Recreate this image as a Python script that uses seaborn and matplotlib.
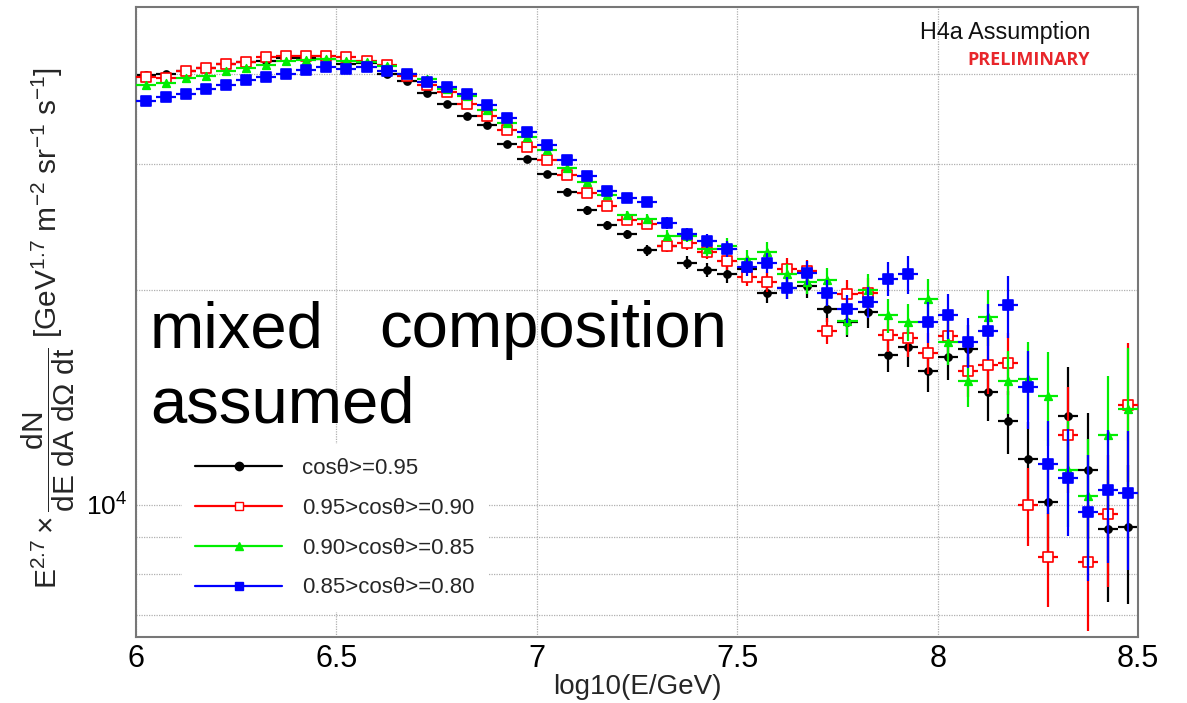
import numpy as np
import pandas as pd
import matplotlib
matplotlib.use("Agg")
import matplotlib.pyplot as plt
from matplotlib.lines import Line2D
from matplotlib.ticker import FixedLocator, FuncFormatter, MultipleLocator, NullLocator
import seaborn as sns

# ----------------------------- data ----------------------------- #
# bin centres of log10(E/GeV), bin width 0.05
log_e = np.round(np.arange(6.025, 8.5, 0.05), 3)

flux_095 = [39900, 40100, 40400, 40800, 41300, 41600, 41800, 42100, 42100, 42000,
            41300, 41500, 40100, 39200, 37700, 36400, 35000, 34000, 32000, 30500,
            29000, 27400, 25800, 24600, 23900, 22700, 23000, 21800, 21300, 21000,
            21400, 19800, 20100, 20200, 18800, 18000, 18600, 16200, 16600, 15400,
            16100, 16500, 14400, 13100, 11600, 10100, 13300, 11200, 9240, 9300]

flux_090 = [39600, 39500, 40400, 40800, 41300, 41600, 42300, 42400, 42500, 42500,
            42300, 41800, 41200, 39800, 38600, 37800, 36300, 35000, 33400, 31700,
            30400, 28900, 27300, 26200, 25000, 24700, 23000, 23200, 22600, 21900,
            20800, 20500, 21400, 21200, 17500, 19700, 19800, 17300, 17100, 16300,
            17200, 15400, 15700, 15800, 10000, 8460, 12500, 8320, 9700, 13800]

flux_085 = [38700, 38900, 39500, 39800, 40400, 40800, 41200, 41800, 41900, 42000,
            41700, 41600, 41100, 40100, 39400, 38100, 37300, 35700, 34200, 32700,
            31400, 29600, 28300, 27100, 25400, 25100, 23800, 23800, 22800, 23000,
            22100, 22600, 21000, 20500, 20600, 18100, 20000, 18400, 18000, 19400,
            16900, 14900, 18300, 14900, 15000, 14200, 11200, 10300, 12500, 13600]

flux_080 = [36700, 37200, 37500, 38100, 38700, 39300, 39700, 40100, 40600, 40900,
            40700, 41000, 40400, 40100, 39000, 38400, 37500, 36200, 34800, 33200,
            31900, 30400, 28800, 27500, 26900, 26500, 24800, 23900, 23400, 22800,
            21500, 21800, 20100, 21100, 19800, 18800, 19200, 20700, 21000, 18000,
            18400, 16900, 17500, 19000, 14600, 11400, 10900, 9780, 10500, 10400]

# relative statistical error per bin
rel_err = [0.003, 0.003, 0.003, 0.003, 0.003, 0.003, 0.003, 0.003, 0.003, 0.003,
           0.004, 0.004, 0.004, 0.004, 0.004, 0.006, 0.006, 0.006, 0.006, 0.006,
           0.010, 0.012, 0.013, 0.014, 0.015, 0.017, 0.019, 0.021, 0.023, 0.026,
           0.029, 0.032, 0.035, 0.038, 0.042, 0.046, 0.050, 0.055, 0.060, 0.066,
           0.072, 0.080, 0.090, 0.100, 0.125, 0.150, 0.170, 0.200, 0.210, 0.220]

labels = ["cosθ>=0.95", "0.95>cosθ>=0.90", "0.90>cosθ>=0.85", "0.85>cosθ>=0.80"]
series = [flux_095, flux_090, flux_085, flux_080]
colors = ["#000000", "#ff0000", "#00ee00", "#0000ff"]
markers = ["o", "s", "^", "s"]
faces = ["#000000", "#ffffff", "#00ee00", "#0000ff"]
msizes = [26, 50, 30, 48]

y_grid = [7000, 8000, 9000, 10000, 20000, 30000, 40000]

# ----------------------------- plot ----------------------------- #
sns.set_theme(style="white")
plt.rcParams["font.family"] = ["Liberation Sans", "DejaVu Sans"]
plt.rcParams["mathtext.fontset"] = "custom"
plt.rcParams["mathtext.rm"] = "Liberation Sans"
plt.rcParams["mathtext.it"] = "Liberation Sans:italic"
plt.rcParams["mathtext.default"] = "regular"

fig = plt.figure(figsize=(11.87, 7.03), dpi=100)
ax = fig.add_axes([0.1146, 0.0939, 0.8442, 0.8962])

rows = []
for lab, vals in zip(labels, series):
    for x, v, e in zip(log_e, vals, rel_err):
        rows.append({"logE": x, "flux": v, "err": v * e, "cut": lab})
df = pd.DataFrame(rows)

for i, lab in enumerate(labels):
    sub = df[df["cut"] == lab]
    ax.errorbar(sub["logE"], sub["flux"], xerr=0.025, yerr=sub["err"], fmt="none",
                ecolor=colors[i], elinewidth=1.6, capsize=0, zorder=2 + i)
    sns.scatterplot(data=sub, x="logE", y="flux", marker=markers[i], s=msizes[i],
                    color=faces[i], edgecolor=colors[i], linewidth=1.2,
                    ax=ax, legend=False, zorder=2.5 + i)

ax.set_yscale("log")
ax.set_xlim(6, 8.5)
ax.set_ylim(6530, 49700)

ax.xaxis.set_major_locator(MultipleLocator(0.5))
ax.xaxis.set_minor_locator(MultipleLocator(0.1))
ax.xaxis.set_major_formatter(FuncFormatter(lambda v, p: f"{v:g}"))
ax.yaxis.set_major_locator(FixedLocator(y_grid))
ax.yaxis.set_minor_locator(NullLocator())
ax.yaxis.set_major_formatter(FuncFormatter(lambda v, p: "$10^{4}$" if v == 10000 else ""))

ax.tick_params(axis="x", which="major", direction="in", length=14, width=1.2,
               labelsize=22, pad=5, colors="#555555", labelcolor="black")
ax.tick_params(axis="x", which="minor", direction="in", length=8, width=1.2, colors="#555555")
ax.tick_params(axis="y", which="major", direction="in", length=12, width=1.2,
               labelsize=19, pad=6, colors="#555555", labelcolor="black")
ax.grid(True, which="major", color="#b0b0b0", linestyle=(0, (1, 1)), linewidth=0.9)
for sp in ax.spines.values():
    sp.set_color("#777777")
    sp.set_linewidth(1.5)

ax.set_xlabel("log10(E/GeV)", fontsize=20, va="top")
ax.xaxis.set_label_coords(0.5, -0.058)
ax.set_ylabel(r"$E^{2.7}\times\dfrac{dN}{dE\ dA\ d\Omega\ dt}$ [GeV$^{1.7}$ m$^{-2}$ sr$^{-1}$ s$^{-1}$]",
              fontsize=21.5)
ax.yaxis.set_label_coords(-0.059, 0.49)

handles = [Line2D([0], [0], color=colors[i], marker=markers[i], markersize=6,
                  markerfacecolor=faces[i], markeredgecolor=colors[i], linewidth=1.6)
           for i in range(4)]
leg = ax.legend(handles, labels, loc="lower left", bbox_to_anchor=(0.046, 0.04),
                borderaxespad=0, frameon=True, fancybox=False, framealpha=1,
                facecolor="white", edgecolor="none", fontsize=16,
                handlelength=3.9, handletextpad=0.9, labelspacing=0.85, borderpad=0.6)
leg.set_zorder(10)

big = dict(transform=ax.transAxes, fontsize=47, color="black", va="baseline", zorder=11)
ax.text(0.014, 0.460, "mixed", **big)
ax.text(0.2425, 0.460, "composition", **big)
ax.text(0.014, 0.341, "assumed", **big)

ax.text(0.952, 0.960, "H4a Assumption", transform=ax.transAxes, fontsize=16.8,
        ha="right", va="center", color="#111111")
ax.text(0.952, 0.916, "PRELIMINARY", transform=ax.transAxes, fontsize=13,
        ha="right", va="center", color="#e8262b", fontweight="bold",
        family=["Open Sans", "DejaVu Sans"])

fig.savefig("out.png", dpi=100)
